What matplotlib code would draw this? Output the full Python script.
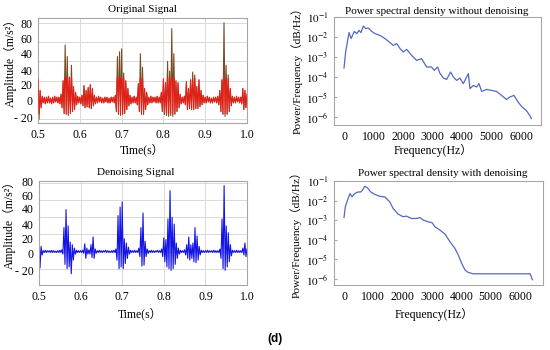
import numpy as np
import matplotlib
matplotlib.use("Agg")
import matplotlib.pyplot as plt
from matplotlib.patches import Rectangle
from matplotlib.ticker import FixedLocator, FixedFormatter, NullLocator

plt.rcParams['font.family'] = ['Liberation Serif', 'Noto Sans CJK SC']
plt.rcParams['mathtext.fontset'] = 'stix'

# ---------------- data ----------------
sample_dt = 0.0025          # s, sampling step of the displayed signals
t_start = 0.5

original_signal = [
    26, -20, 10, -8, 4, -3, 3, -4, 3, -3,
    4, -3, 2, -4, 3, -3, 4, -2, 3, -3,
    3, -4, 6, -8, 20, -14, 57, -15, 45, -16,
    24, -14, 36, -12, 14, -10, 8, -5, 4, -3,
    3, -4, 5, -6, 15, -8, 10, -7, 13, -8,
    16, -9, 12, -6, 5, -4, 3, -3, 4, -2,
    3, -3, 2, -3, 3, -2, 3, -3, 2, -3,
    3, -2, 3, -3, 5, -12, 45, -15, 50, -16,
    53, -15, 28, -14, 20, -10, 12, -6, 5, -4,
    3, -3, 4, -3, 3, -5, 17, -12, 48, -15,
    34, -15, 12, -10, 8, -5, 3, -3, 4, -3,
    3, -2, 3, -3, 4, -3, 3, -3, 8, -12,
    22, -15, 18, -16, 40, -17, 30, -16, 74, -17,
    48, -15, 20, -12, 18, -8, 6, -4, 3, -3,
    4, -5, 19, -10, 12, -9, 21, -10, 29, -10,
    26, -9, 14, -9, 21, -7, 10, -5, 5, -3,
    3, -3, 4, -2, 3, -3, 2, -3, 3, -2,
    3, -3, 4, -5, 10, -12, 21, -15, 80, -17,
    36, -15, 26, -12, 12, -6, 4, -3, 3, -3,
    4, -2, 3, -3, 3, -4, 12, -10, 10, -8,
    6,
]

denoised_signal = [
    22, -19, 6, -4, 1, -1, 1.5, -1, 1, -0.5,
    1, -1, 1.5, -1, 1, -1, 0.5, -1, 1, -1,
    1.5, -1, 2, -3, 28, -15, 49, -20, 30, -18,
    11, -26, 8, -10, 4, -3, 1.5, -1, 1, -1,
    1, -1, 1.5, -2, 9, -8, 4, -3, 2, -3,
    8, -7, 17, -8, 3, -2, 1, -1, 1.5, -1,
    1, -1, 1, -0.5, 1.5, -1, 1, -1, 0.5, -1,
    1, -1, 1.5, -1, 3, -10, 42, -20, 52, -18,
    58, -20, 15, -14, 10, -8, 5, -3, 1.5, -1,
    1, -1, 1.5, -1, 1, -1, 4, -6, 28, -17,
    45, -16, 12, -6, 3, -2, 1, -1, 1.5, -1,
    1, -1, 1, -0.5, 1.5, -1, 1, -1, 3, -6,
    16, -12, 14, -18, 38, -20, 71, -22, 40, -20,
    32, -15, 10, -8, 4, -3, 1.5, -1, 1, -1,
    2, -4, 8, -8, 17, -10, 8, -8, 10, -12,
    28, -13, 18, -10, 6, -4, 1.5, -1, 1, -1,
    1, -1, 1.5, -1, 1, -0.5, 1, -1, 1.5, -1,
    1, -1, 1, -1, 3, -8, 38, -20, 77, -22,
    30, -18, 22, -12, 8, -5, 1.5, -1, 1, -1,
    1.5, -1, 1, -1, 1, -1, 4, -4, 10, -6,
    3,
]

psd_raw_freq = [0, 56, 170, 240, 350, 430, 510, 575, 655, 735, 825, 940, 1050,
                1220, 1390, 1560, 1670, 1785, 1900, 2010, 2125, 2295, 2465, 2630,
                2800, 2970, 3060, 3175, 3255, 3370, 3480, 3615, 3705, 3820, 3930,
                4045, 4215, 4270, 4385, 4495, 4575, 4665, 4835, 5000, 5170, 5340,
                5510, 5625, 5760, 5900, 6035, 6180, 6295, 6350]
psd_raw_log = [-3.55, -2.75, -1.78, -2.08, -1.72, -1.83, -1.67, -1.78, -1.45, -1.58,
               -1.55, -1.72, -1.83, -1.92, -2.08, -2.28, -2.42, -2.33, -2.58, -2.75,
               -2.62, -2.92, -3.17, -3.08, -3.50, -3.50, -3.67, -3.50, -3.83, -4.05,
               -4.12, -3.75, -4.00, -4.17, -4.05, -4.33, -3.83, -4.58, -4.42, -4.50,
               -4.33, -4.72, -4.62, -4.67, -4.72, -4.92, -5.12, -5.00, -4.92, -5.25,
               -5.50, -5.67, -5.92, -6.08]

psd_den_freq = [0, 45, 137, 205, 273, 364, 478, 570, 626, 706, 797, 911, 1048,
                1219, 1390, 1560, 1674, 1845, 2016, 2130, 2300, 2472, 2585, 2700,
                2870, 3007, 3098, 3269, 3440, 3610, 3781, 3895, 4009, 4123, 4237,
                4408, 4692, 5604, 6344, 6424]
psd_den_log = [-2.86, -2.32, -1.90, -1.64, -1.81, -1.64, -1.56, -1.56, -1.47, -1.27,
               -1.34, -1.56, -1.68, -1.78, -1.81, -2.06, -2.40, -2.69, -2.82, -2.79,
               -2.91, -2.91, -2.86, -2.99, -3.08, -3.13, -3.33, -3.50, -3.70, -4.09,
               -4.43, -4.77, -5.19, -5.53, -5.66, -5.73, -5.73, -5.73, -5.73, -6.03]

time_ticks = [0.5, 0.6, 0.7, 0.8, 0.9, 1.0]
time_ticklabels = ['0.5', '0.6', '0.7', '0.8', '0.9', '1.0']
amp_ticklabels = ['80', '60', '40', '40', '20', '0', '- 20']
freq_ticks = [0, 1000, 2000, 3000, 4000, 5000, 6000]
psd_ticks_exp = [-1, -2, -3, -4, -5, -6]

# ---------------- figure ----------------
W, H = 550, 350
fig = plt.figure(figsize=(5.5, 3.5), dpi=100)


def box(l, t, r, b):
    return [l / W, 1 - b / H, (r - l) / W, (b - t) / H]


frame_col = '#a6a6a6'
grid_col = '#d9d9d9'
fs = 8


def style_frame(ax):
    for s in ax.spines.values():
        s.set_color(frame_col)
        s.set_linewidth(0.8)


def signal_axes(rect, values, ylim, tick_vals, colors):
    ax = fig.add_axes(rect)
    vals = np.asarray(values, dtype=float)
    t = t_start + sample_dt * np.arange(len(vals))
    ax.set_xlim(0.5, 1.0)
    ax.set_ylim(*ylim)
    for g in [-20, 0, 20, 40, 60, 80]:
        ax.axhline(g, color=grid_col, lw=0.7, zorder=0)
    for g in [0.6, 0.7, 0.8, 0.9]:
        ax.axvline(g, color=grid_col, lw=0.7, zorder=0)
    ax.plot(t, vals, color=colors[0], lw=0.8, zorder=2)
    if len(colors) > 1:
        ln, = ax.plot(t, vals, color=colors[1], lw=0.55, zorder=3)
        clip = Rectangle((0.5, -14), 0.5, 37, transform=ax.transData)
        ln.set_clip_path(clip)
    ax.set_xticks(time_ticks)
    ax.set_xticklabels(time_ticklabels, fontsize=8.5)
    ax.yaxis.set_major_locator(FixedLocator(tick_vals))
    ax.yaxis.set_major_formatter(FixedFormatter(amp_ticklabels))
    ax.tick_params(axis='both', length=0, labelsize=8.5)
    ax.tick_params(axis='x', pad=4)
    ax.tick_params(axis='y', pad=4)
    style_frame(ax)
    return ax


# top-left: original signal
ax1 = signal_axes(box(38, 18, 247, 123), original_signal, (-23.8, 85),
                  [79.8, 64.2, 48.7, 31.1, 16.6, 0, -17.9], ['#7a4a22', '#ff1414'])
ax1.set_ylabel('Amplitude（m/s²）', fontsize=8.5)
ax1.yaxis.set_label_coords(-0.103, 0.6)
fig.text(142 / W, 1 - 10 / H, 'Original Signal', ha='center', va='center', fontsize=fs)
fig.text(142 / W, 1 - 150 / H, 'Time(s）', ha='center', va='center', fontsize=8.5)

# bottom-left: denoised signal
ax3 = signal_axes(box(39, 181, 247, 285), denoised_signal, (-39.1, 82.4),
                  [82, 66, 50.5, 31, 15.4, -2.1, -21.6], ['#1414e6'])
ax3.set_ylabel('Amplitude（m/s²）', fontsize=8.5)
ax3.yaxis.set_label_coords(-0.113, 0.61)
fig.text(136 / W, 1 - 173 / H, 'Denoising Signal', ha='center', va='center', fontsize=fs)
fig.text(140 / W, 1 - 314 / H, 'Time(s）', ha='center', va='center', fontsize=8.5)


def psd_axes(rect, freq, logv, xlim, ylim):
    ax = fig.add_axes(rect)
    ax.semilogy(freq, 10.0 ** np.asarray(logv), color='#5468c0', lw=0.9)
    ax.set_xlim(*xlim)
    ax.set_ylim(*ylim)
    ax.set_xticks(freq_ticks)
    ax.set_xticklabels([str(v) for v in freq_ticks], fontsize=8.5)
    ax.yaxis.set_major_locator(FixedLocator([10.0 ** e for e in psd_ticks_exp]))
    ax.yaxis.set_major_formatter(FixedFormatter([r'$10^{%d}$' % e for e in psd_ticks_exp]))
    ax.yaxis.set_minor_locator(NullLocator())
    ax.tick_params(axis='x', length=0, pad=4, labelsize=8.5)
    ax.tick_params(axis='y', direction='in', length=2, color=frame_col, pad=4, labelsize=8)
    style_frame(ax)
    ax.set_ylabel('Power/Frequency（dB/Hz）', fontsize=8.2)
    return ax


ax2 = psd_axes(box(334, 17, 541, 125), psd_raw_freq, psd_raw_log, (-339, 6678),
               (10 ** -6.4, 10 ** -1))
ax2.yaxis.set_label_coords(-0.15, 0.53)
fig.text(437 / W, 1 - 11 / H, 'Power spectral density without denoising',
         ha='center', va='center', fontsize=fs)
fig.text(433 / W, 1 - 150 / H, 'Frequency(Hz）', ha='center', va='center', fontsize=8.5)

ax4 = psd_axes(box(334, 181, 543, 285), psd_den_freq, psd_den_log, (-341, 6784),
               (10 ** -6.3, 10 ** -1))
ax4.yaxis.set_label_coords(-0.153, 0.51)
fig.text(443 / W, 1 - 174 / H, 'Power spectral density with denoising',
         ha='center', va='center', fontsize=fs)
fig.text(434 / W, 1 - 314 / H, 'Frequency(Hz）', ha='center', va='center', fontsize=8.5)

fig.text(275 / W, 1 - 339 / H, '(d)', ha='center', va='center', fontsize=8.5,
         fontweight='bold', family=['Liberation Sans'])

fig.savefig('out.png', dpi=100)
